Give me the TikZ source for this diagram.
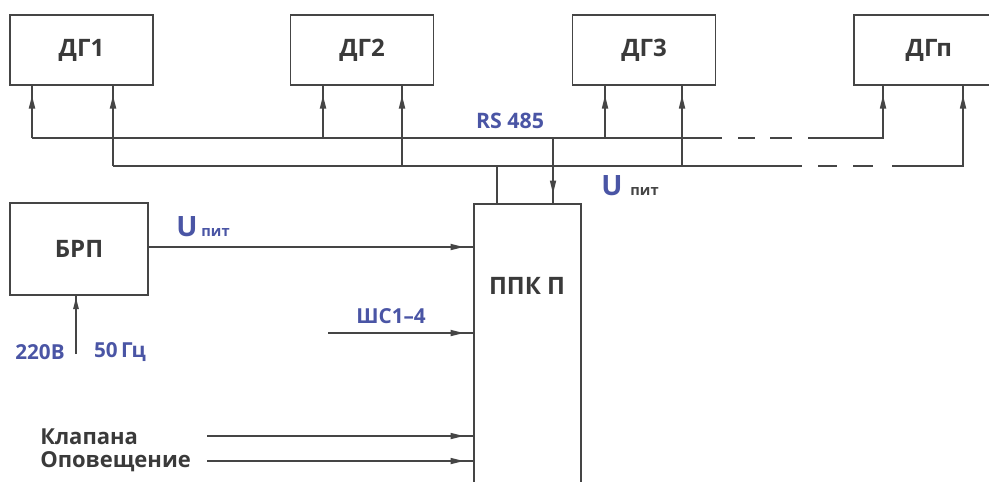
\documentclass[tikz,border=0pt]{standalone}
\usepackage{fontspec}
\setmainfont{Open Sans}
\usetikzlibrary{arrows.meta,decorations.markings}
\definecolor{ink}{HTML}{454545}
\definecolor{txt}{HTML}{3A3A3A}
\definecolor{blu}{HTML}{4A55A5}
\begin{document}
\begin{tikzpicture}[x=0.75pt,y=-0.75pt,
  wire/.style={draw=ink,line width=1.25pt},
  arr/.style={postaction={decorate},decoration={markings,
     mark=at position -7pt with {\arrow{Triangle[length=10pt,width=4.5pt]}}}},
  dgbox/.style={draw=ink,line width=1.25pt,minimum width=107.25pt,minimum height=52.5pt,inner sep=0pt,
     text=txt,font=\bfseries\fontsize{18}{20}\selectfont},
  lbl/.style={inner sep=0pt,text=txt,font=\bfseries\fontsize{16.5}{18}\selectfont},
  blbl/.style={inner sep=0pt,text=blu,font=\bfseries\fontsize{15.5}{17}\selectfont}
]
\useasboundingbox (0,0) rectangle (989,482);
\clip (0,0) rectangle (989,482);
\fill[white] (0,0) rectangle (989,482);

% boxes
\node[dgbox] (dg1) at (81.5,50) {ДГ1};
\node[dgbox] (dg2) at (362,50) {ДГ2};
\node[dgbox] (dg3) at (644,50) {ДГ3};
\node[dgbox] (dgn) at (925.5,50) {\hspace*{5pt}ДГп};
\node[dgbox,minimum width=103.5pt,minimum height=69pt] (brp) at (79,249) {БРП};
\node[draw=ink,line width=1.25pt,minimum width=80.25pt,minimum height=237pt,inner sep=0pt] (ppk) at (527.5,362) {};
\node[inner sep=0pt,text=txt,font=\bfseries\fontsize{18}{20}\selectfont] (ppklbl) at (527,286) {ППК П};

% bus coordinates
\coordinate (ra) at (32,138);
\coordinate (rb) at (323,138);
\coordinate (rc) at (605,138);
\coordinate (rd1) at (722,138);
\coordinate (rs2) at (808,138);
\coordinate (rn) at (883,138);
\coordinate (rppk) at (553,138);
\coordinate (ua) at (113,166);
\coordinate (ub) at (402,166);
\coordinate (uc) at (682,166);
\coordinate (ue1) at (802,166);
\coordinate (us2) at (892,166);
\coordinate (un) at (963,166);
\coordinate (uppk) at (497,166);

% RS485 bus
\draw[wire] (ra) -- (rd1);
\draw[wire,dash pattern=on 0pt off 12pt on 12.75pt off 11.25pt on 16.5pt off 12pt] (rd1) -- (rs2);
\draw[wire,arr] (rs2) -- (rn) -- (rn |- dgn.south);
\draw[wire,arr] (ra) -- (ra |- dg1.south);
\draw[wire,arr] (rb) -- (rb |- dg2.south);
\draw[wire,arr] (rc) -- (rc |- dg3.south);

% U pit bus
\draw[wire] (ua) -- (ue1);
\draw[wire,dash pattern=on 0pt off 12pt on 14.25pt off 12pt on 15pt off 14.25pt] (ue1) -- (us2);
\draw[wire,arr] (us2) -- (un) -- (un |- dgn.south);
\draw[wire,arr] (ua) -- (ua |- dg1.south);
\draw[wire,arr] (ub) -- (ub |- dg2.south);
\draw[wire,arr] (uc) -- (uc |- dg3.south);

% PPK links to buses
\draw[wire] (uppk |- ppk.north) -- (uppk);
\draw[wire,arr] (rppk) -- (rppk |- ppk.north);

% inputs to PPK
\coordinate (shc) at (328,333);
\coordinate (kl) at (207,436);
\coordinate (op) at (207,461);
\coordinate (mains) at (76,354);
\draw[wire,arr] (brp.east |- 0,247) -- (ppk.west |- 0,247);
\draw[wire,arr] (shc) -- (shc -| ppk.west);
\draw[wire,arr] (kl) -- (kl -| ppk.west);
\draw[wire,arr] (op) -- (op -| ppk.west);
\draw[wire,postaction={decorate},decoration={markings,
     mark=at position -1pt with {\arrow{Triangle[length=9pt,width=4pt]}}}] (mains) -- (mains |- brp.south);

% labels
\node[blbl,font=\bfseries\fontsize{16}{18}\selectfont] (rslbl) at (510,121) {RS 485};
\node[blbl,anchor=base west] (up1) at (176,236) {\fontsize{21}{22}\selectfont U\hspace{3pt}\fontsize{11}{12}\selectfont пит};
\node[blbl,anchor=base west] (up2) at (601,195) {\fontsize{21}{22}\selectfont U\hspace{6pt}\fontsize{11}{12}\selectfont\color{ink}пит};
\node[blbl] (shclbl) at (391,316) {ШС1–4};
\node[blbl] (v220) at (40,352) {220В};
\node[blbl] (hz50) at (120,352) {50\,Гц};
\node[lbl,anchor=west] (kllbl) at (40,437) {Клапана};
\node[lbl,anchor=west] (oplbl) at (40,462) {Оповещение};
\end{tikzpicture}
\end{document}
